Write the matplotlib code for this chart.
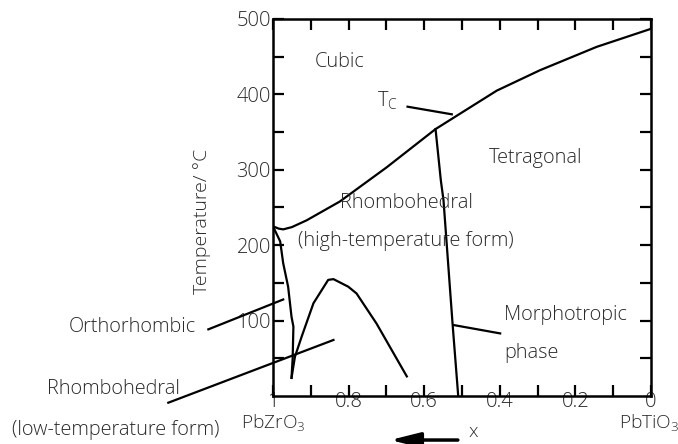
import matplotlib
matplotlib.use("Agg")
import matplotlib.pyplot as plt
from matplotlib.ticker import FixedLocator

plt.rcParams['font.family'] = ['Open Sans', 'DejaVu Sans']
plt.rcParams['font.weight'] = 'light'
plt.rcParams['mathtext.default'] = 'regular'

# Curie temperature line (cubic boundary)
tc_x = [1.0, 0.985, 0.973, 0.950, 0.911, 0.823, 0.752, 0.700, 0.570, 0.497, 0.408, 0.294, 0.144, 0.0]
tc_y = [225, 222, 221, 224, 233, 258, 284, 303, 354, 377, 405, 432, 463, 487]

# Orthorhombic / rhombohedral boundary
ortho_x = [1.0, 0.981, 0.973, 0.960, 0.951, 0.946, 0.948, 0.951]
ortho_y = [225, 205, 176, 145, 105, 92, 50, 24]

# Low-temperature rhombohedral boundary
rlow_x = [0.951, 0.942, 0.924, 0.893, 0.854, 0.840, 0.801, 0.779, 0.726, 0.646]
rlow_y = [24, 52, 79, 123, 154, 155, 145, 136, 96, 26]

# Morphotropic phase boundary
mpb_x = [0.570, 0.556, 0.549, 0.525, 0.510]
mpb_y = [354, 286, 260, 96, 0]

# Leader lines
lead_tc_x, lead_tc_y = [0.644, 0.527], [383.7, 373.6]
lead_mpb_x, lead_mpb_y = [0.521, 0.399], [94, 83]
lead_or_x, lead_or_y = [1.171, 0.973], [88.4, 128]
lead_rl_x, lead_rl_y = [1.277, 0.840], [-8.9, 74.3]

xticks = [1, 0.8, 0.6, 0.4, 0.2, 0]
xticklabels = ['1', '0.8', '0.6', '0.4', '0.2', '0']
yticks = [100, 200, 300, 400, 500]
yticklabels = ['100', '200', '300', '400', '500']

fig = plt.figure(figsize=(6.78, 4.44), dpi=100)
ax = fig.add_axes([273/678, 1-396/444, (651-273)/678, (396-19)/444])
ax.set_xlim(1, 0)
ax.set_ylim(0, 500)

lw = 1.6
for xs, ys in [(tc_x, tc_y), (ortho_x, ortho_y), (rlow_x, rlow_y), (mpb_x, mpb_y)]:
    ax.plot(xs, ys, color='black', lw=lw, solid_joinstyle='round')
for xs, ys in [(lead_tc_x, lead_tc_y), (lead_mpb_x, lead_mpb_y),
               (lead_or_x, lead_or_y), (lead_rl_x, lead_rl_y)]:
    ax.plot(xs, ys, color='black', lw=lw, clip_on=False)

for s in ax.spines.values():
    s.set_linewidth(1.8)

txtc = '#2a2a2a'
ax.set_xticks(xticks)
ax.set_xticklabels(xticklabels)
ax.xaxis.set_minor_locator(FixedLocator([0.9, 0.7, 0.5, 0.3, 0.1]))
ax.set_yticks(yticks)
ax.set_yticklabels(yticklabels)
ax.yaxis.set_minor_locator(FixedLocator([50, 150, 250, 350, 450]))
ax.tick_params(which='both', direction='in', top=True, right=True,
               length=8, width=1.6, labelsize=14.5, pad=1.5,
               color='black', labelcolor=txtc)
ax.tick_params(axis='x', pad=-3)

fs = 14.3
tk = dict(fontsize=fs, va='center', ha='left', color=txtc)
ax.text(0.889, 443, 'Cubic', **tk)
ax.text(0.726, 392, r'T$_{C}$', **tk)
ax.text(0.430, 315, 'Tetragonal', **tk)
ax.text(0.823, 256, 'Rhombohedral', **tk)
ax.text(0.933, 205, '(high-temperature form)', **tk)
ax.text(0.389, 107, 'Morphotropic', **tk)
ax.text(0.389, 57, 'phase', **tk)
ax.text(1.5415, 92, 'Orthorhombic', **tk)
ax.text(1.5987, 9, 'Rhombohedral', **tk)
ax.text(1.691, -45, '(low-temperature form)', **tk)

ax.text(1.0, -42, r'PbZrO$_{3}$', fontsize=13.8, ha='center', va='baseline', color=txtc)
ax.text(0.005, -42, r'PbTiO$_{3}$', fontsize=13.8, ha='center', va='baseline', color=txtc)
ax.text(0.471, -55, 'x', fontsize=13.8, ha='center', va='baseline', color=txtc)
ax.annotate('', xy=(0.69, -58.4), xytext=(0.511, -58.4),
            arrowprops=dict(arrowstyle='-|>,head_length=1.2,head_width=0.3',
                            lw=2.5, color='black', mutation_scale=15,
                            shrinkA=0, shrinkB=0),
            annotation_clip=False)

fig.text(202/678, 1-221/444, 'Temperature/ °C', rotation=90, ha='center', va='center',
         fontsize=14, color=txtc)

fig.savefig('out.png', dpi=100)
